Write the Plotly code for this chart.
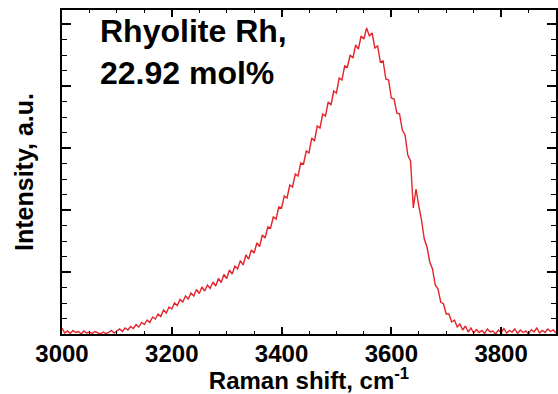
import plotly.graph_objects as go

# Raman shift, cm-1 (every 5 cm-1)
raman_shift = list(range(3000, 3905, 5))

# intensity, arbitrary counts
intensity = [
    60, 10, 30, 5, 35, 15, 25, 0, 30, 10,
    20, 5, 25, 10, 0, 20, 5, 15, 35, 10,
    30, 50, 25, 60, 40, 75, 55, 95, 70, 115,
    95, 140, 115, 170, 150, 200, 175, 240, 210, 270,
    250, 310, 285, 345, 320, 380, 350, 410, 380, 445,
    405, 470, 430, 490, 455, 520, 480, 555, 515, 595,
    555, 640, 600, 680, 650, 735, 690, 790, 750, 840,
    810, 910, 875, 990, 960, 1070, 1060, 1170, 1150, 1270,
    1260, 1380, 1360, 1490, 1470, 1600, 1580, 1710, 1700, 1830,
    1810, 1960, 1930, 2080, 2060, 2200, 2180, 2320, 2290, 2430,
    2410, 2560, 2540, 2680, 2670, 2790, 2760, 2890, 2850, 2980,
    2950, 3060, 2980, 3010, 2860, 2880, 2720, 2730, 2550, 2540,
    2360, 2350, 2210, 2200, 2040, 1990, 1790, 1730, 1260, 1450,
    1280, 1140, 950, 870, 720, 650, 490, 450, 320, 300,
    200, 200, 120, 140, 70, 100, 40, 80, 20, 60,
    10, 45, 15, 35, 5, 50, 20, 30, 0, 40,
    15, 55, 10, 35, 20, 50, 5, 40, 15, 30,
    0, 45, 20, 60, 10, 35, 15, 50, 25, 40,
    10,
]

label_lines = ["Rhyolite Rh,", "22.92 mol%"]

FONT = "Liberation Sans, Arial, sans-serif"

fig = go.Figure()
fig.add_trace(
    go.Scatter(
        x=raman_shift,
        y=intensity,
        mode="lines",
        line=dict(color="#e3242b", width=1.4),
        showlegend=False,
        hoverinfo="skip",
    )
)

fig.add_annotation(
    text="<br>".join(label_lines),
    xref="paper",
    yref="paper",
    x=0.072,
    y=0.997,
    xanchor="left",
    yanchor="top",
    align="left",
    showarrow=False,
    font=dict(family=FONT, size=32, color="black", weight="bold"),
)

axis_common = dict(
    showline=True,
    linecolor="black",
    linewidth=1.5,
    mirror="allticks",
    ticks="inside",
    tickcolor="black",
    showgrid=False,
    zeroline=False,
)

fig.update_xaxes(
    range=[3000, 3900],
    dtick=200,
    tick0=3000,
    ticklen=7,
    tickwidth=1.5,
    ticklabelstandoff=-3,
    minor=dict(dtick=50, ticks="inside", ticklen=3.5, tickcolor="black", tickwidth=1),
    tickfont=dict(family=FONT, size=24, color="black", weight="bold"),
    title=dict(
        text="Raman shift, cm<sup>-1</sup>",
        font=dict(family=FONT, size=24, color="black", weight="bold"),
        standoff=4,
    ),
    **axis_common,
)

fig.update_yaxes(
    range=[0, 3240],
    dtick=620,
    tick0=0,
    ticklen=9,
    tickwidth=1.5,
    showticklabels=False,
    minor=dict(dtick=155, ticks="inside", ticklen=5, tickcolor="black", tickwidth=1),
    title=dict(
        text="Intensity, a.u.",
        font=dict(family=FONT, size=25, color="black", weight="bold"),
        standoff=20,
    ),
    **axis_common,
)

fig.update_layout(
    width=558,
    height=394,
    margin=dict(l=62, r=2, t=10, b=60, autoexpand=False),
    paper_bgcolor="white",
    plot_bgcolor="white",
)

# drop the page's default body margin so the figure sits at the window corner
fig.write_html(
    "out.html",
    config={"displayModeBar": False},
    post_script="document.body.style.margin = '0';",
)
